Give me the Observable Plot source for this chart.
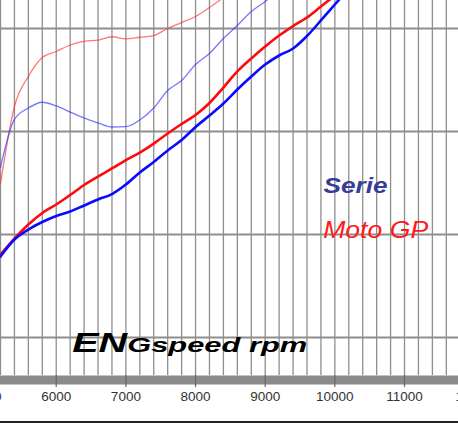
<!DOCTYPE html>
<html><head><meta charset="utf-8">
<script src="https://cdn.jsdelivr.net/npm/d3@7"></script>
<script src="https://cdn.jsdelivr.net/npm/@observablehq/plot@0.6"></script>
<style>
body{margin:0;background:#fff;}
#chart svg{display:block;}
#base{width:458px;height:2px;background:#222;}
</style></head>
<body><div id="chart"></div><div id="base"></div>
<script>
// engine speed samples (rpm)
const rpm = [5200,5400,5600,5800,6000,6200,6400,6600,6800,7000,7200,7400,7600,7800,8000,8200,8400,8600,8800,9000,9200,9400,9600,9800,10000,10200];
// series values (arbitrary units, gridlines every 10)
const serieThin = [26.53,31.17,32.28,32.84,32.48,31.89,31.33,30.83,30.44,30.47,31.12,32.28,33.98,34.95,36.50,37.57,39.03,40.29,41.65,42.62,43.69];
const motoThin = [24.95,32.43,35.34,37.18,37.77,38.40,38.76,38.88,39.20,39.00,39.15,39.32,40.00,40.58,41.17,42.04,43.01];
const motoThick = [18.06,19.61,20.97,22.09,22.91,23.83,24.81,25.63,26.41,27.23,27.96,28.83,29.81,30.73,31.60,32.77,34.27,35.83,37.09,38.25,39.32,40.24,41.07,42.14,43.20];
const serieThick = [17.86,19.51,20.48,21.21,21.80,22.23,22.82,23.40,23.93,24.85,26.02,27.04,28.16,29.17,30.44,31.55,32.72,34.08,35.34,36.50,37.38,38.06,39.27,40.78,42.33,43.88];
const xTicks = [5000,6000,7000,8000,9000,10000,11000,12000];
const yGrid = [10,20,30,40];
const seriesNames = ["Serie","Moto GP"];
const titleParts = ["EN","Gspeed rpm"];

const toRows = (vals) => vals.map((v,i)=>({rpm:rpm[i], v}));
const vGrid = d3.range(5200, 11801, 200);
const yMin = 6.31, yMax = 42.72;

const chart = Plot.plot({
  width:458, height:421,
  marginTop:0, marginLeft:0, marginRight:0, marginBottom:46,
  x:{domain:[5200,11775], axis:null},
  y:{domain:[yMin,yMax], axis:null},
  style:{fontFamily:"'Liberation Sans', Arial, sans-serif", background:"#fff"},
  marks:[
    Plot.ruleX(vGrid, {x:d=>d, stroke:"#8e8e8e", strokeWidth:1.3}),
    Plot.ruleY(yGrid, {y:d=>d, stroke:"#8e8e8e", strokeWidth:1.8}),
    Plot.line(toRows(motoThin), {x:"rpm", y:"v", stroke:"#ff3030", strokeOpacity:0.65, strokeWidth:1.3, curve:"monotone-x", clip:true}),
    Plot.line(toRows(serieThin), {x:"rpm", y:"v", stroke:"#3030ff", strokeOpacity:0.65, strokeWidth:1.3, curve:"monotone-x", clip:true}),
    Plot.line(toRows(motoThick), {x:"rpm", y:"v", stroke:"#ff0a0a", strokeWidth:2.6, curve:"monotone-x", clip:true}),
    Plot.line(toRows(serieThick), {x:"rpm", y:"v", stroke:"#0a0aff", strokeWidth:2.6, curve:"monotone-x", clip:true}),
    Plot.ruleY([yMin], {y:d=>d, stroke:"#8a8a8a", strokeWidth:9, dy:4.5}),
    Plot.ruleX(xTicks, {x:d=>d, y1:yMin, y2:5.14, stroke:"#666", strokeWidth:1.2}),
    Plot.text(xTicks, {x:d=>d, frameAnchor:"bottom", dy:25, text:d=>String(d), fontSize:13.5, fill:"#333"}),
    Plot.text([seriesNames[0]], {x:9837, y:24.76, text:d=>d, fill:"#363d99", fontWeight:"bold", fontSize:22, fontStyle:"italic", textAnchor:"start", className:"lbl-serie"}),
    Plot.text([seriesNames[1]], {x:9832, y:20.39, text:d=>d, fill:"#ff1a1a", fontSize:24, fontStyle:"italic", textAnchor:"start", className:"lbl-moto"}),
    Plot.text([titleParts[0]], {x:6229, y:9.42, text:d=>d, fill:"#000", fontWeight:"bold", fontSize:28, fontStyle:"italic", textAnchor:"start", className:"lbl-en"}),
    Plot.text([titleParts[1]], {x:7019, y:9.2, text:d=>d, fill:"#000", fontWeight:"bold", fontSize:21, fontStyle:"italic", textAnchor:"start", className:"lbl-g"})
  ]
});
// stretch wide lettering as in the reference
const stretch = {"lbl-serie":64, "lbl-moto":105, "lbl-en":55, "lbl-g":180};
for (const [cls, w] of Object.entries(stretch)) {
  d3.select(chart).selectAll(`.${cls} text`).attr("textLength", w).attr("lengthAdjust", "spacingAndGlyphs");
}
document.getElementById("chart").appendChild(chart);
</script></body></html>
